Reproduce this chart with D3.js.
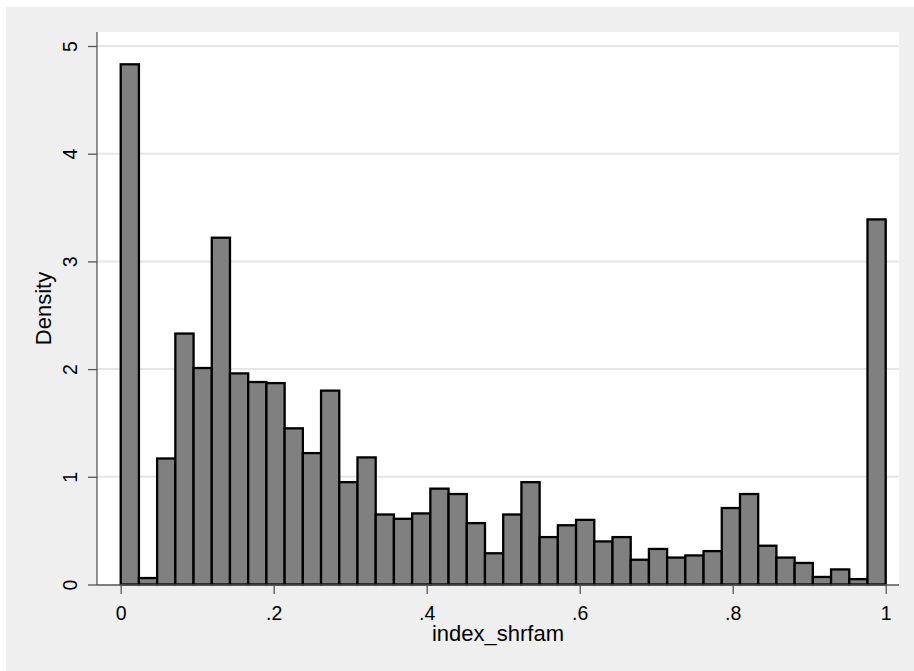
<!DOCTYPE html>
<html>
<head>
<meta charset="utf-8">
<script src="https://cdn.jsdelivr.net/npm/d3@7/dist/d3.min.js"></script>
<style>
  html, body { margin: 0; padding: 0; background: #fff; }
  svg { display: block; font-family: "Liberation Sans", Arial, sans-serif; }
</style>
</head>
<body>
<div id="chart"></div>
<script>
// histogram of index_shrfam, 42 equal bins on [0, 1], density per bin
const density = [
  4.83, 0.06, 1.17, 2.33, 2.01, 3.22, 1.96, 1.88, 1.87, 1.45,
  1.22, 1.80, 0.95, 1.18, 0.65, 0.61, 0.66, 0.89, 0.84, 0.57,
  0.29, 0.65, 0.95, 0.44, 0.55, 0.60, 0.40, 0.44, 0.23, 0.33,
  0.25, 0.27, 0.31, 0.71, 0.84, 0.36, 0.25, 0.20, 0.07, 0.14,
  0.05, 3.39
];
const binRange = [0, 1];
const xTicks = [0, 0.2, 0.4, 0.6, 0.8, 1];
const xTickLabels = ["0", ".2", ".4", ".6", ".8", "1"];
const yTicks = [0, 1, 2, 3, 4, 5];
const xTitle = "index_shrfam";
const yTitle = "Density";

const W = 914, H = 671;
const plot = { l: 97, r: 899, t: 32, b: 585 };

const svg = d3.select("#chart").append("svg")
  .attr("width", W).attr("height", H).attr("viewBox", `0 0 ${W} ${H}`);

// graph region (grey) and plot region (white)
svg.append("rect").attr("x", 6).attr("y", 7).attr("width", W - 6).attr("height", H - 7)
  .attr("fill", "#efefef");
svg.append("rect").attr("x", plot.l).attr("y", plot.t)
  .attr("width", plot.r - plot.l).attr("height", plot.b - plot.t).attr("fill", "#fff");

const x = d3.scaleLinear().domain([0, 1]).range([120.7, 885.7]);
const y = d3.scaleLinear().domain([0, 5]).range([584.5, 46]);

// gridlines
svg.append("g").selectAll("line").data(yTicks.filter(d => d > 0)).join("line")
  .attr("x1", plot.l).attr("x2", plot.r)
  .attr("y1", d => y(d)).attr("y2", d => y(d))
  .attr("stroke", "#e6e6e6").attr("stroke-width", 2);

// bars
const bw = (binRange[1] - binRange[0]) / density.length;
svg.append("g").selectAll("rect").data(density).join("rect")
  .attr("x", (d, i) => x(binRange[0] + i * bw))
  .attr("width", (d, i) => x(binRange[0] + (i + 1) * bw) - x(binRange[0] + i * bw))
  .attr("y", d => y(d))
  .attr("height", d => y(0) - y(d))
  .attr("fill", "#808080")
  .attr("stroke", "#000")
  .attr("stroke-width", 2.3);

// y axis
const yAxis = svg.append("g").attr("transform", `translate(${plot.l},0)`)
  .call(d3.axisLeft(y).tickValues(yTicks).tickSize(9).tickPadding(11).tickFormat(d3.format("d")));
yAxis.select(".domain").remove();
yAxis.selectAll(".tick line").attr("stroke", "#555").attr("stroke-width", 1.3);
yAxis.selectAll(".tick text")
  .attr("transform", "rotate(-90)")
  .attr("x", 0).attr("y", -20).attr("dy", 0)
  .attr("text-anchor", "middle")
  .style("font-size", "19.5px").style("fill", "#000");
yAxis.append("line").attr("x1", 0).attr("x2", 0).attr("y1", plot.t).attr("y2", plot.b)
  .attr("stroke", "#555").attr("stroke-width", 1.3);

// x axis
const xAxis = svg.append("g").attr("transform", `translate(0,${plot.b})`)
  .call(d3.axisBottom(x).tickValues(xTicks).tickSize(9).tickPadding(10)
    .tickFormat((d, i) => xTickLabels[i]));
xAxis.select(".domain").remove();
xAxis.selectAll(".tick line").attr("stroke", "#555").attr("stroke-width", 1.3);
xAxis.selectAll(".tick text").attr("dy", 0).attr("y", 35)
  .style("font-size", "19.5px").style("fill", "#000");
xAxis.append("line").attr("x1", plot.l).attr("x2", plot.r).attr("y1", 0).attr("y2", 0)
  .attr("stroke", "#555").attr("stroke-width", 1.3);

// axis titles
svg.append("text").attr("x", (plot.l + plot.r) / 2).attr("y", 641)
  .attr("text-anchor", "middle").style("font-size", "22px").text(xTitle);
svg.append("text").attr("transform", `translate(51,${(plot.t + plot.b) / 2}) rotate(-90)`)
  .attr("text-anchor", "middle").style("font-size", "22px").text(yTitle);
</script>
</body>
</html>
